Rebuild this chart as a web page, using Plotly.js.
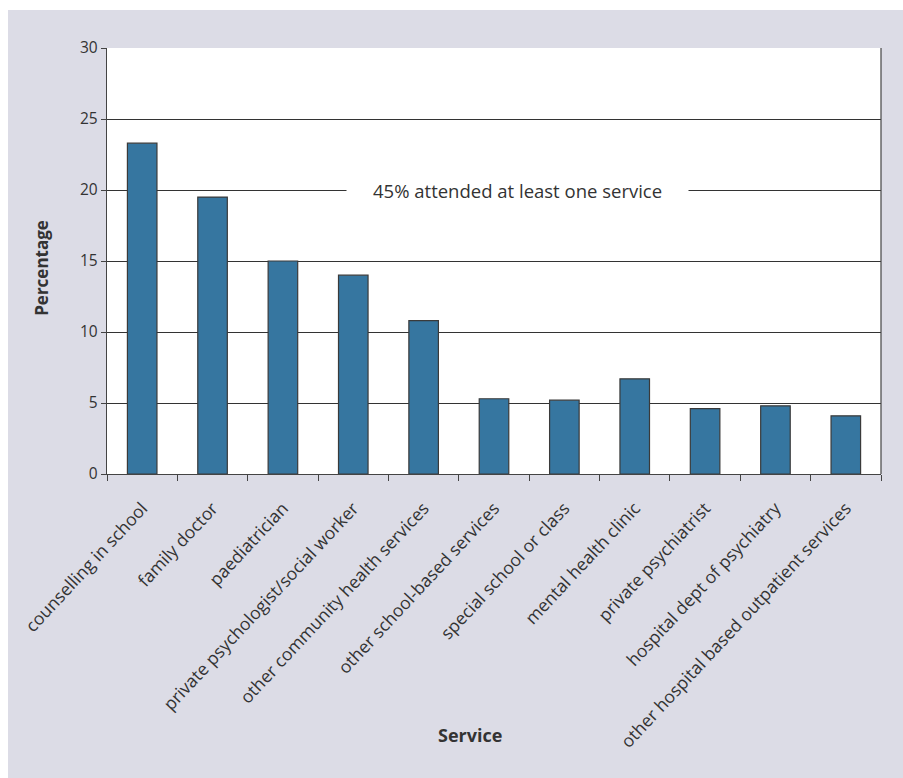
<!DOCTYPE html>
<html>
<head>
<meta charset="utf-8">
<script src="https://cdn.plot.ly/plotly-3.0.1.min.js"></script>
<style>
html,body{margin:0;padding:0;background:#ffffff;}
#chart{position:absolute;left:8px;top:10px;width:895px;height:768px;}
</style>
</head>
<body>
<div id="chart"></div>
<script>
const services = [
  "counselling in school",
  "family doctor",
  "paediatrician",
  "private psychologist/social worker",
  "other community health services",
  "other school-based services",
  "special school or class",
  "mental health clinic",
  "private psychiatrist",
  "hospital dept of psychiatry",
  "other hospital based outpatient services"
];
const percentages = [23.3, 19.5, 15.0, 14.0, 10.8, 5.3, 5.2, 6.7, 4.6, 4.8, 4.1];
const yTicks = [0, 5, 10, 15, 20, 25, 30];
const noteText = "45% attended at least one service";
const noteY = 20;
const xTitle = "Service";
const yTitle = "Percentage";

const txt = "#333333";
const fontFam = "Open Sans, Liberation Sans, sans-serif";

const trace = {
  type: "bar",
  x: services,
  y: percentages,
  marker: {color: "#3676a0", line: {color: "#3a3a3a", width: 1.2}},
  hoverinfo: "x+y"
};

const layout = {
  width: 895, height: 768,
  paper_bgcolor: "#dcdce6",
  plot_bgcolor: "#ffffff",
  margin: {l: 99, r: 22, t: 38, b: 304},
  bargap: 0.58,
  showlegend: false,
  font: {family: fontFam, color: txt, size: 14},
  xaxis: {
    type: "category",
    tickangle: -47,
    tickfont: {size: 17.5, color: txt, family: fontFam},
    ticklabelstandoff: 16,
    ticks: "outside", ticklen: 6, tickcolor: "#444", tickwidth: 1,
    tickson: "boundaries",
    showline: true, linecolor: "#444", linewidth: 1.2,
    mirror: false,
    showgrid: false,
    automargin: false
  },
  yaxis: {
    range: [0, 30],
    tickvals: yTicks,
    ticktext: yTicks.map(String),
    tickfont: {size: 15.5, color: txt, family: fontFam},
    ticks: "outside", ticklen: 5, tickcolor: "#444", tickwidth: 1,
    showline: true, linecolor: "#444", linewidth: 1.2,
    mirror: false,
    showgrid: true, gridcolor: "#333333", gridwidth: 1,
    zeroline: false,
    automargin: false
  },
  shapes: [
    {type: "line", xref: "paper", yref: "paper", x0: 1, x1: 1, y0: 0, y1: 1, line: {color: "#444", width: 1.2}}
  ],
  annotations: [
    {
      x: 0.5, xref: "paper", y: noteY, yref: "y",
      text: noteText, showarrow: false,
      font: {size: 18.5, color: txt, family: fontFam},
      bgcolor: "#ffffff", borderpad: 26,
      xshift: 23
    },
    {
      x: 0.469, xref: "paper", y: -0.613, yref: "paper",
      xanchor: "center", yanchor: "middle",
      text: "<b>" + xTitle + "</b>", showarrow: false,
      font: {size: 18, color: txt, family: fontFam}
    },
    {
      x: (42 - 107) / 774, xref: "paper", y: 0.484, yref: "paper",
      xanchor: "center", yanchor: "middle",
      text: "<b>" + yTitle + "</b>", showarrow: false, textangle: -90,
      font: {size: 17, color: txt, family: fontFam}
    }
  ]
};

Plotly.newPlot("chart", [trace], layout, {displayModeBar: false, staticPlot: true});
</script>
</body>
</html>
